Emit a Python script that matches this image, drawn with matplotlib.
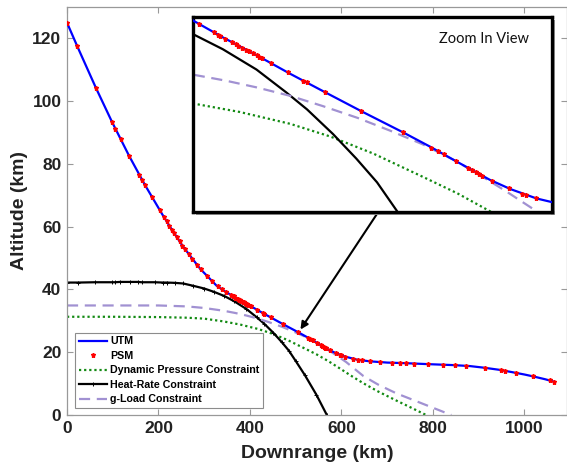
import matplotlib
matplotlib.use("Agg")
from matplotlib import pyplot as plt
from matplotlib.patches import Rectangle

plt.rcParams['font.family'] = ['Liberation Sans', 'DejaVu Sans']

# UTM trajectory
utm_x = [0, 23, 63, 98, 136, 170, 208, 229, 254, 291, 327, 344, 366, 392, 418, 444, 474, 505, 526, 547,
         572, 588, 608, 619, 635, 662, 700, 742, 790, 844, 880, 910, 945, 975, 1000, 1019, 1045, 1065]
utm_y = [125, 117.3, 104.3, 93.5, 82.5, 73.4, 64.0, 59.1, 53.6, 46.6, 41.2, 39.5, 37.6, 35.5, 33.3, 31.2,
         28.8, 26.4, 24.7, 22.9, 20.8, 19.7, 18.6, 18.2, 17.6, 17.1, 16.7, 16.5, 16.2, 15.9, 15.6, 15.1,
         14.4, 13.6, 12.9, 12.3, 11.4, 10.6]

# PSM nodes
psm_x = [0, 22, 63, 98, 106, 117, 136, 158, 164, 170, 186, 203, 212, 218, 224, 229, 234, 240, 246, 252,
         258, 266, 274, 284, 292, 306, 318, 330, 338, 348, 359, 362, 364, 368, 373, 376, 378, 381, 384,
         386, 389, 392, 394, 396, 403, 416, 428, 431, 445, 473, 505, 527, 532, 537, 546, 555, 558, 561,
         564, 566, 574, 587, 597, 600, 608, 626, 637, 644, 662, 684, 710, 728, 742, 758, 790, 821, 848,
         872, 914, 949, 957, 981, 1019, 1056, 1065]
psm_y = [125, 117.6, 104.3, 93.5, 91.2, 88.0, 82.5, 76.6, 75.0, 73.4, 69.4, 65.2, 63.1, 61.7, 60.3, 59.1,
         57.9, 56.7, 55.4, 54.0, 52.8, 51.3, 49.8, 47.9, 46.5, 44.4, 42.6, 41.0, 40.1, 39.2, 38.2, 37.9,
         37.8, 37.4, 37.0, 36.8, 36.6, 36.4, 36.1, 36.0, 35.7, 35.5, 35.3, 35.2, 34.6, 33.5, 32.5, 32.3,
         31.1, 28.9, 26.4, 24.6, 24.2, 23.8, 23.0, 22.2, 22.0, 21.7, 21.5, 21.3, 20.7, 19.8, 19.1, 19.0,
         18.6, 17.8, 17.5, 17.4, 17.1, 16.9, 16.6, 16.6, 16.5, 16.4, 16.2, 16.0, 15.9, 15.7, 15.0, 14.3,
         14.1, 13.4, 12.3, 11.0, 10.6]

# constraints
dp_x = [0, 100, 200, 262, 300, 343, 379, 418, 449, 482, 521, 547, 572, 599, 620, 648, 680, 720, 750, 785]
dp_y = [31.3, 31.3, 31.2, 31.0, 30.7, 29.8, 28.8, 27.4, 25.9, 23.9, 21.1, 19.2, 17.1, 14.6, 12.6,
        10.1, 7.5, 4.6, 2.5, 0]

hr_x = [0, 25, 61, 98, 105, 116, 138, 156, 163, 192, 210, 218, 236, 254, 275, 300, 322, 344, 366, 392,
        415, 431, 451, 469, 485, 500, 520, 545, 568]
hr_y = [42.2, 42.2, 42.3, 42.3, 42.3, 42.4, 42.4, 42.4, 42.3, 42.3, 42.2, 42.2, 42.1, 41.9, 41.2, 40.3,
        39.2, 37.9, 36.2, 33.8, 31.1, 29.1, 26.2, 23.3, 20.5, 17.2, 12.7, 6.5, 0]

gl_x = [0, 100, 200, 262, 300, 343, 368, 392, 418, 443, 470, 495, 520, 546, 566, 585, 610, 648, 680, 720,
        760, 800, 840]
gl_y = [34.9, 34.9, 34.9, 34.6, 34.1, 33.2, 32.5, 31.7, 30.7, 29.5, 28.1, 26.6, 25.0, 23.0, 21.2, 19.4,
        16.9, 12.4, 9.7, 6.9, 4.6, 2.3, 0]

blue = '#0000ff'
green = '#138a13'
purple = '#a191d2'


def draw(ax, markers=True):
    ax.plot(utm_x, utm_y, color=blue, lw=1.6, label='UTM', zorder=3)
    ax.plot(psm_x, psm_y, '*', color='red', ms=3.6, mew=1.0, label='PSM', zorder=4)
    ax.plot(dp_x, dp_y, color=green, lw=1.6, ls=(0, (1, 1.3)), label='Dynamic Pressure Constraint')
    if markers:
        ax.plot(hr_x, hr_y, color='black', lw=1.6, marker='+', ms=2.5, mew=0.7, label='Heat-Rate Constraint')
    else:
        ax.plot(hr_x, hr_y, color='black', lw=1.6)
    ax.plot(gl_x, gl_y, color=purple, lw=1.6, ls=(0, (5, 3)), label='g-Load Constraint')


fig = plt.figure(figsize=(5.67, 4.68), dpi=100)
ax = fig.add_axes([67 / 567, 53 / 468, 500 / 567, 408 / 468])
draw(ax)

ax.set(xlim=(0, 1093), ylim=(0, 130))
ax.set_xticks([0, 200, 400, 600, 800, 1000])
ax.set_yticks([0, 20, 40, 60, 80, 100, 120])
ax.tick_params(direction='in', length=4.5, width=0.8, color='0.6', top=True, right=True,
               labelsize=12.5, labelcolor='#222222', pad=4)
for lab in ax.get_xticklabels() + ax.get_yticklabels():
    lab.set_fontweight('bold')
for sp in ax.spines.values():
    sp.set_color('0.6')
    sp.set_linewidth(0.9)

ax.set_xlabel('Downrange (km)', fontsize=14, fontweight='bold', color='#222222', labelpad=7)
ax.set_ylabel('Altitude (km)', fontsize=14, fontweight='bold', color='#222222', labelpad=3)

leg = ax.legend(loc='lower left', bbox_to_anchor=(0.016, 0.017), borderaxespad=0,
                prop={'size': 7.7, 'weight': 'bold'}, fancybox=False, framealpha=1,
                edgecolor='0.55', handlelength=2.6, handletextpad=0.35, labelspacing=0.42,
                borderpad=0.35)
leg.get_frame().set_linewidth(0.8)

ax.annotate('', xy=(507, 26.5), xytext=(680, 64.6),
            arrowprops=dict(arrowstyle='-|>', color='black', lw=1.5, mutation_scale=11))

# zoom-in inset with drop shadow
ix0, iy0, iw, ih = 193 / 567, 256 / 468, 359 / 567, 195 / 468
fig.patches.append(Rectangle((ix0 + 3 / 567, iy0 - 3 / 468), iw, ih, transform=fig.transFigure,
                             facecolor='0.6', edgecolor='none', zorder=5))
ins = fig.add_axes([ix0, iy0, iw, ih], zorder=6)
draw(ins, markers=False)
ins.set(xlim=(343, 620), ylim=(17, 40))
ins.set_xticks([])
ins.set_yticks([])
for sp in ins.spines.values():
    sp.set_color('black')
    sp.set_linewidth(2.4)
ins.text(0.81, 0.885, 'Zoom In View', transform=ins.transAxes, ha='center', va='center',
         fontsize=10.5, family=['Lato', 'DejaVu Sans'], color='#111111')

plt.savefig('out.png', dpi=100)
